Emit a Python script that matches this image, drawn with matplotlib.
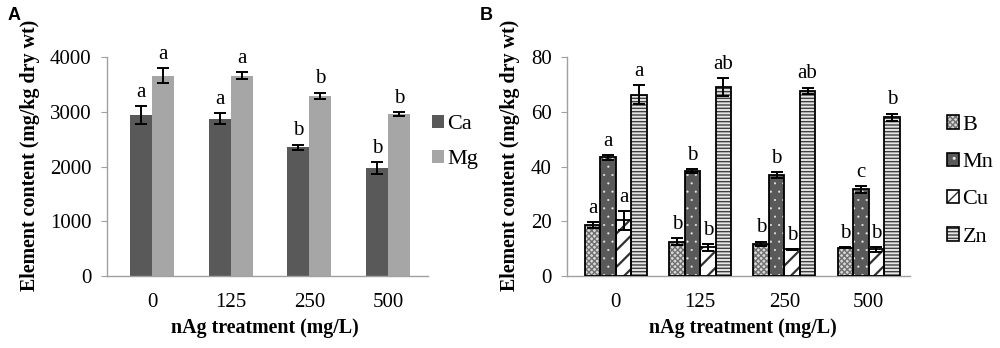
import matplotlib
matplotlib.use("Agg")
import matplotlib.pyplot as plt
import numpy as np

# ---- data ----
categories = ["0", "125", "250", "500"]

ca_vals = [2935, 2875, 2350, 1975]
ca_err = [165, 100, 50, 105]
mg_vals = [3660, 3660, 3295, 2965]
mg_err = [135, 70, 55, 35]
ca_letters = ["a", "a", "b", "b"]
mg_letters = ["a", "a", "b", "b"]

b_vals = [18.6, 12.5, 11.8, 10.4]
b_err = [1.0, 1.3, 0.8, 0.3]
mn_vals = [43.4, 38.4, 37.0, 31.6]
mn_err = [0.9, 0.8, 1.1, 1.3]
cu_vals = [20.3, 10.5, 9.7, 9.7]
cu_err = [3.4, 1.2, 0.2, 0.8]
zn_vals = [66.2, 69.0, 67.7, 57.9]
zn_err = [3.4, 3.2, 1.1, 1.4]
b_letters = ["a", "b", "b", "b"]
mn_letters = ["a", "b", "b", "c"]
cu_letters = ["a", "b", "b", "b"]
zn_letters = ["a", "ab", "ab", "b"]

ylabel = "Element content (mg/kg dry wt)"
xlabel = "nAg treatment (mg/L)"

SERIF = ["Liberation Serif", "DejaVu Serif"]
plt.rcParams["font.family"] = SERIF
plt.rcParams["hatch.linewidth"] = 1.0

fig = plt.figure(figsize=(10, 3.48), dpi=100)
W, H = 1000, 348


def ax_rect(l, r, t, b):
    return [l / W, 1 - b / H, (r - l) / W, (b - t) / H]


axA = fig.add_axes(ax_rect(107, 428, 57, 276))
axB = fig.add_axes(ax_rect(567, 910, 57, 276))

x = np.arange(len(categories))
GRAY_SPINE = "#a0a0a0"


def style_axis(ax, ylim, yticks, xlim):
    ax.set_xlim(*xlim)
    ax.set_ylim(*ylim)
    ax.set_yticks(yticks)
    ax.set_xticks(x)
    ax.set_xticklabels(categories)
    for s in ["top", "right"]:
        ax.spines[s].set_visible(False)
    for s in ["left", "bottom"]:
        ax.spines[s].set_color(GRAY_SPINE)
        ax.spines[s].set_linewidth(1.0)
    ax.tick_params(axis="y", length=4, color=GRAY_SPINE, labelsize=15, pad=7)
    ax.tick_params(axis="x", length=0, labelsize=15, pad=12)
    for lab in ax.get_xticklabels() + ax.get_yticklabels():
        lab.set_fontfamily(SERIF)


def annotate_letters(ax, xs, vals, errs, letters):
    for xi, v, e, t in zip(xs, vals, errs, letters):
        ax.annotate(t, (xi, v + e), xytext=(0, 3), textcoords="offset points",
                    ha="center", va="bottom", fontsize=15)


# ---- Panel A ----
wA = 0.28
ekw = dict(ecolor="black", elinewidth=1.4, capsize=4, capthick=1.4)
xa_ca = x - wA / 2
xa_mg = x + wA / 2
axA.bar(xa_ca, ca_vals, wA, color="#595959", yerr=ca_err, error_kw=ekw, label="Ca", zorder=2)
axA.bar(xa_mg, mg_vals, wA, color="#a6a6a6", yerr=mg_err, error_kw=ekw, label="Mg", zorder=2)
annotate_letters(axA, xa_ca, ca_vals, ca_err, ca_letters)
annotate_letters(axA, xa_mg, mg_vals, mg_err, mg_letters)
style_axis(axA, (0, 4000), [0, 1000, 2000, 3000, 4000], (-0.572, 3.51))
legA = axA.legend(loc="center left", bbox_to_anchor=(423 / W, 1 - 142 / H),
                  bbox_transform=fig.transFigure, frameon=False, fontsize=16,
                  handlelength=0.55, handleheight=0.55, handletextpad=0.15,
                  labelspacing=0.7, borderaxespad=0)

# ---- Panel B ----
wB = 0.184
offs = np.array([-1.5, -0.5, 0.5, 1.5]) * wB
series = [
    ("B", b_vals, b_err, b_letters, dict(fc="#d9d9d9", hc="#707070", hatch="xxxxxx", hl=1.0)),
    ("Mn", mn_vals, mn_err, mn_letters, dict(fc="#595959", hc="#e8e8e8", hatch="..", hl=0.3)),
    ("Cu", cu_vals, cu_err, cu_letters, dict(fc="white", hc="#303030", hatch="//", hl=1.6)),
    ("Zn", zn_vals, zn_err, zn_letters, dict(fc="#e6e6e6", hc="#404040", hatch="-----", hl=1.0)),
]
handles = []
for (name, vals, errs, lets, st), off in zip(series, offs):
    xs = x + off
    with plt.rc_context({"hatch.linewidth": st["hl"]}):
        axB.bar(xs, vals, wB, color=st["fc"], edgecolor=st["hc"], hatch=st["hatch"],
                linewidth=0, zorder=2)
        h = matplotlib.patches.Patch(facecolor=st["fc"], edgecolor=st["hc"],
                                     hatch=st["hatch"], linewidth=0)
    axB.bar(xs, vals, wB, fill=False, edgecolor="black", linewidth=1.3,
            yerr=errs, error_kw=ekw, zorder=3)
    annotate_letters(axB, xs, vals, errs, lets)
    h2 = matplotlib.patches.Patch(fill=False, edgecolor="black", linewidth=1.2)
    handles.append((h, h2))
style_axis(axB, (0, 80), [0, 20, 40, 60, 80], (-0.579, 3.492))
axB.legend(handles, [s[0] for s in series], loc="center left",
           bbox_to_anchor=(938 / W, 1 - 181 / H), bbox_transform=fig.transFigure,
           frameon=False, fontsize=16, handlelength=0.55, handleheight=0.55,
           handletextpad=0.15, labelspacing=0.8, borderaxespad=0)

# ---- labels ----
for cx, ycx, xlx in [(30, 155, 265), (510, 155, 743)]:
    fig.text(cx / W, 1 - ycx / H, ylabel, rotation=90, ha="center", va="center",
             fontsize=14.4, fontweight="bold")
    fig.text(xlx / W, 1 - 328 / H, xlabel, ha="center", va="center",
             fontsize=14.4, fontweight="bold")

fig.text(8 / W, 1 - 15 / H, "A", ha="left", va="center", fontsize=13,
         fontweight="bold", family=["Liberation Sans", "DejaVu Sans"])
fig.text(480 / W, 1 - 15 / H, "B", ha="left", va="center", fontsize=13,
         fontweight="bold", family=["Liberation Sans", "DejaVu Sans"])

fig.savefig("out.png", dpi=100)
